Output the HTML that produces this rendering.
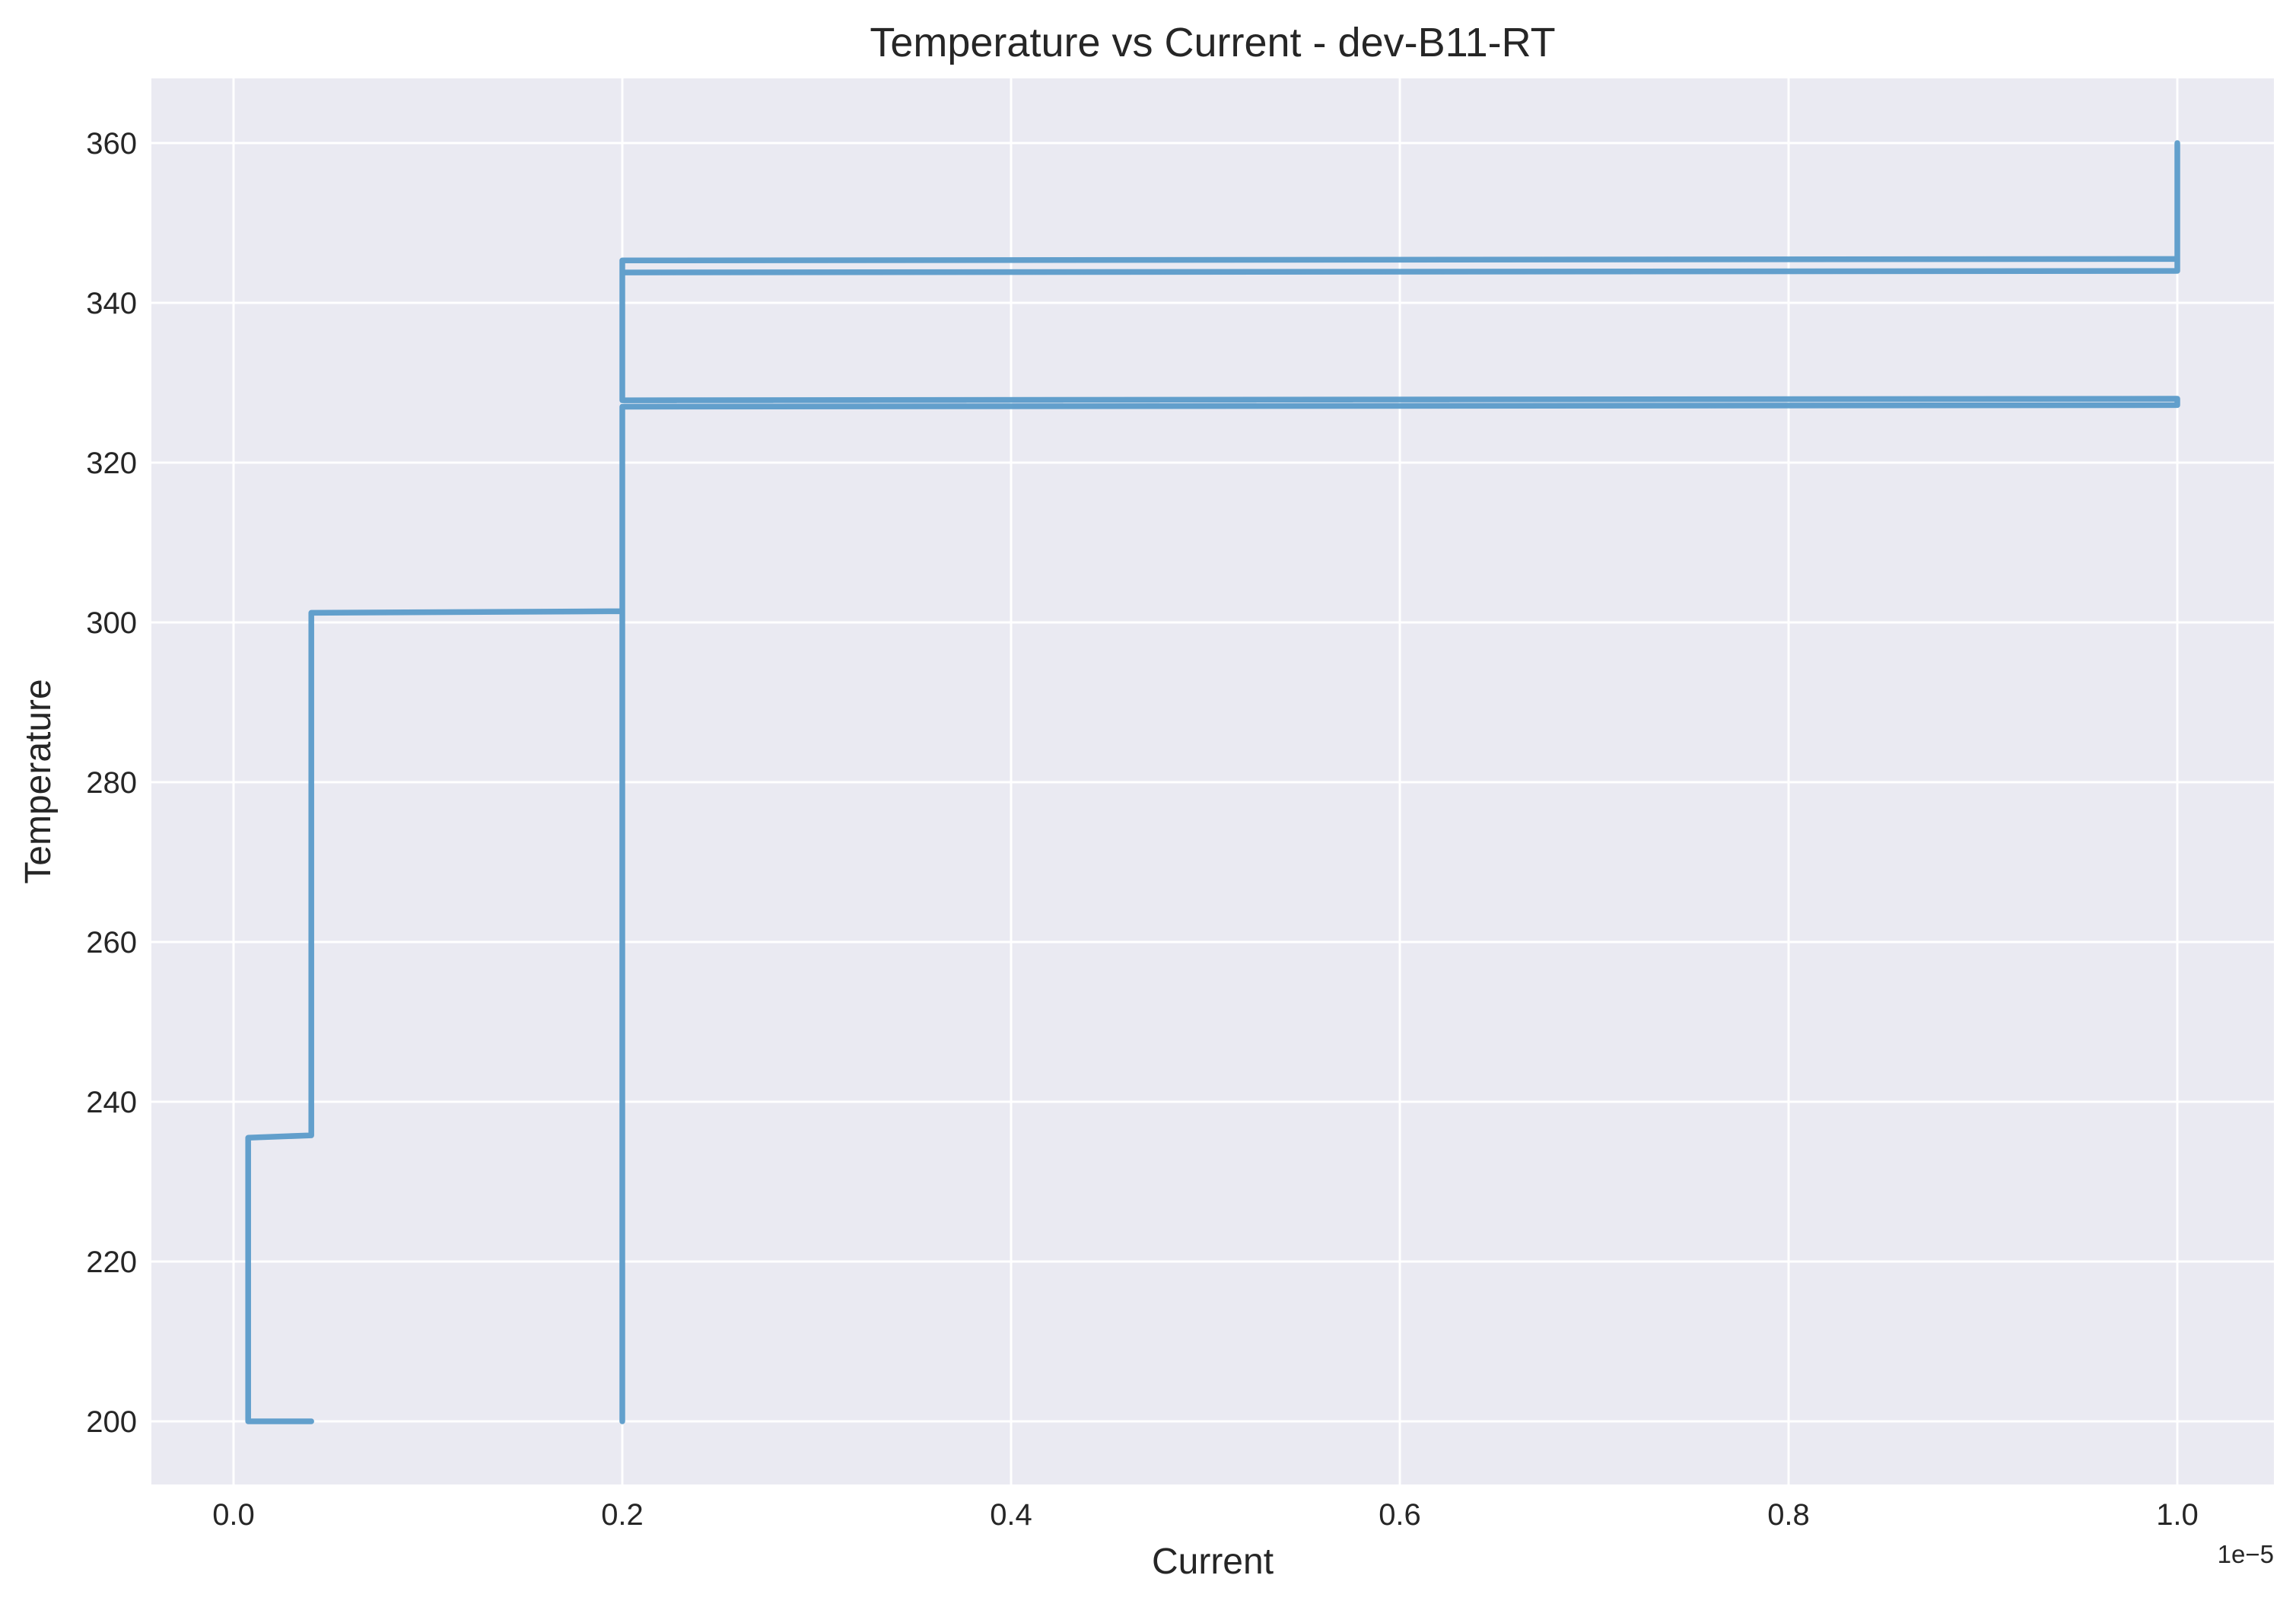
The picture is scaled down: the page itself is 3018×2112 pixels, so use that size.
<!DOCTYPE html>
<html><head><meta charset="utf-8"><style>
html,body{margin:0;padding:0;background:#fff;}
svg{display:block;font-family:"Liberation Sans",Arial,sans-serif;}
</style></head><body>
<svg id="chart" width="3018" height="2112" viewBox="0 0 3018 2112" xmlns="http://www.w3.org/2000/svg">
<rect x="199" y="103" width="2790" height="1848" fill="#eaeaf2"/>
<g id="grid"></g>
<g id="ticks" fill="#262626" font-size="40"></g>
<path id="series" fill="none" stroke="#5b9bc9" stroke-opacity="0.95" stroke-width="7.5" stroke-linejoin="round" stroke-linecap="round"/>
<text x="1594" y="74" text-anchor="middle" font-size="54" fill="#262626">Temperature vs Current - dev-B11-RT</text>
<text x="1594" y="2068" text-anchor="middle" font-size="48" fill="#262626">Current</text>
<text x="0" y="0" transform="translate(66,1027) rotate(-90)" text-anchor="middle" font-size="48" fill="#262626">Temperature</text>
<text x="2989" y="2054" text-anchor="end" font-size="33" fill="#262626">1e−5</text>
</svg>
<script>
const xTicks = [0.0, 0.2, 0.4, 0.6, 0.8, 1.0];
const xTickLabels = ["0.0","0.2","0.4","0.6","0.8","1.0"];
const yTicks = [200, 220, 240, 260, 280, 300, 320, 340, 360];
const currentValues = [0.04, 0.0075, 0.0075, 0.04, 0.04, 0.2, 0.2, 0.2, 1.0, 1.0, 0.2, 0.2, 1.0, 1.0, 0.2, 1.0, 1.0];
const temperatureValues = [200, 200, 235.5, 235.8, 301.2, 301.4, 200, 327.0, 327.2, 328.0, 327.8, 345.3, 345.5, 344.0, 343.8, 344.0, 360];

const NS = "http://www.w3.org/2000/svg";
const X0 = 307, X1 = 2862, Y200 = 1868, Y360 = 188;
function xScale(v){ return X0 + v * (X1 - X0); }
function yScale(v){ return Y200 + (v - 200) * (Y360 - Y200) / 160; }

const grid = document.getElementById('grid');
const ticks = document.getElementById('ticks');
xTicks.forEach((t, i) => {
  const l = document.createElementNS(NS, 'line');
  l.setAttribute('x1', xScale(t)); l.setAttribute('x2', xScale(t));
  l.setAttribute('y1', 103); l.setAttribute('y2', 1951);
  l.setAttribute('stroke', '#fff'); l.setAttribute('stroke-width', 3);
  
  
  grid.appendChild(l);
  const tx = document.createElementNS(NS, 'text');
  tx.setAttribute('x', xScale(t)); tx.setAttribute('y', 2004);
  tx.setAttribute('text-anchor', 'middle');
  tx.textContent = xTickLabels[i];
  
  
  ticks.appendChild(tx);
});
yTicks.forEach(t => {
  const l = document.createElementNS(NS, 'line');
  l.setAttribute('x1', 199); l.setAttribute('x2', 2989);
  l.setAttribute('y1', yScale(t)); l.setAttribute('y2', yScale(t));
  l.setAttribute('stroke', '#fff'); l.setAttribute('stroke-width', 3);
  
  
  grid.appendChild(l);
  const tx = document.createElementNS(NS, 'text');
  tx.setAttribute('x', 180); tx.setAttribute('y', yScale(t) + 14);
  tx.setAttribute('text-anchor', 'end');
  tx.textContent = String(t);
  
  
  ticks.appendChild(tx);
});
let d = '';
currentValues.forEach((c, i) => {
  d += (i ? 'L' : 'M') + xScale(c).toFixed(1) + ' ' + yScale(temperatureValues[i]).toFixed(1) + ' ';
});
document.getElementById('series').setAttribute('d', d);
</script>
</body></html>
